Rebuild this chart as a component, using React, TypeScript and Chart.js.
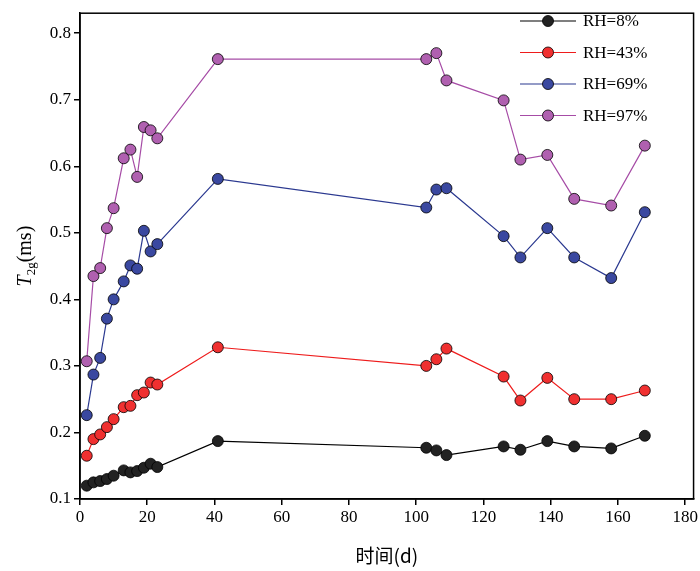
import React, { useEffect, useRef } from "react";
import { Chart, registerables } from "chart.js";
Chart.register(...registerables);

const days = [2, 4, 6, 8, 10, 13, 15, 17, 19, 21, 23, 41, 103, 106, 109, 126, 131, 139, 147, 158, 168];
const rh8 = [0.12, 0.125, 0.127, 0.13, 0.135, 0.143, 0.14, 0.142, 0.147, 0.153, 0.148, 0.187, 0.177, 0.173, 0.166, 0.179, 0.174, 0.187, 0.179, 0.176, 0.195];
const rh43 = [0.165, 0.19, 0.197, 0.208, 0.22, 0.238, 0.24, 0.256, 0.26, 0.275, 0.272, 0.328, 0.3, 0.31, 0.326, 0.284, 0.248, 0.282, 0.25, 0.25, 0.263];
const rh69 = [0.226, 0.287, 0.312, 0.371, 0.4, 0.427, 0.451, 0.446, 0.503, 0.472, 0.483, 0.581, 0.538, 0.565, 0.567, 0.495, 0.463, 0.507, 0.463, 0.432, 0.531];
const rh97 = [0.307, 0.435, 0.447, 0.507, 0.537, 0.612, 0.625, 0.584, 0.659, 0.654, 0.642, 0.761, 0.761, 0.77, 0.729, 0.699, 0.61, 0.617, 0.551, 0.541, 0.631];
const labels = ["RH=8%", "RH=43%", "RH=69%", "RH=97%"];
const colors = ["#000000", "#ee1c1c", "#2b3990", "#a64ca6"];
const fills = ["#222222", "#f03030", "#3a48a0", "#b060b0"];

const FONT = "'Liberation Serif', 'Times New Roman', serif";

export default function App() {
  const ref = useRef<HTMLCanvasElement>(null);
  useEffect(() => {
    document.body.style.margin = "0";
    const series = [rh8, rh43, rh69, rh97];
    const extras = {
      id: "extras",
      afterDraw(chart: any) {
        const { ctx, chartArea: a } = chart;
        ctx.save();
        ctx.strokeStyle = "#000";
        ctx.lineWidth = 1.5;
        ctx.strokeRect(a.left, a.top, a.right - a.left, a.bottom - a.top);
        ctx.font = `17px ${FONT}`;
        ctx.textBaseline = "middle";
        for (let i = 0; i < 4; i++) {
          const y = 21 + i * 31.5;
          ctx.strokeStyle = colors[i];
          ctx.lineWidth = 1.2;
          ctx.beginPath();
          ctx.moveTo(520, y);
          ctx.lineTo(576, y);
          ctx.stroke();
          ctx.beginPath();
          ctx.arc(548, y, 5.5, 0, Math.PI * 2);
          ctx.fillStyle = fills[i];
          ctx.fill();
          ctx.strokeStyle = "#000";
          ctx.lineWidth = 0.8;
          ctx.stroke();
          ctx.fillStyle = "#000";
          ctx.fillText(labels[i], 583, y + 1);
        }
        ctx.translate(24, (a.top + a.bottom) / 2);
        ctx.rotate(-Math.PI / 2);
        ctx.textBaseline = "alphabetic";
        ctx.font = `italic 20px ${FONT}`;
        const w1 = ctx.measureText("T").width;
        ctx.font = `13px ${FONT}`;
        const w2 = ctx.measureText("2g").width;
        ctx.font = `20px ${FONT}`;
        const w3 = ctx.measureText("(ms)").width;
        let x = -(w1 + w2 + w3) / 2;
        ctx.font = `italic 20px ${FONT}`;
        ctx.fillText("T", x, 7); x += w1;
        ctx.font = `13px ${FONT}`;
        ctx.fillText("2g", x, 11); x += w2;
        ctx.font = `20px ${FONT}`;
        ctx.fillText("(ms)", x, 7);
        ctx.restore();
      },
    };
    const chart = new Chart(ref.current!, {
      type: "line",
      data: {
        datasets: series.map((s, i) => ({
          label: labels[i],
          data: days.map((d, j) => ({ x: d, y: s[j] })),
          borderColor: colors[i],
          borderWidth: 1.2,
          pointRadius: 5.5,
          pointBackgroundColor: fills[i],
          pointBorderColor: "#000",
          pointBorderWidth: 0.8,
          tension: 0,
        })),
      },
      options: {
        animation: false,
        responsive: false,
        layout: { padding: { top: 1, right: 2, left: 0, bottom: 0 } },
        plugins: { legend: { display: false }, tooltip: { enabled: false } },
        scales: {
          x: {
            type: "linear",
            min: 0,
            max: 182.5,
            afterFit: (s: any) => { s.height = 72; },
            afterBuildTicks: (s: any) => {
              s.ticks = [0, 20, 40, 60, 80, 100, 120, 140, 160, 180].map((v) => ({ value: v }));
            },
            grid: { drawOnChartArea: false, tickLength: 6, color: "#000", lineWidth: 1.5 },
            border: { color: "#000", width: 1.5 },
            ticks: { color: "#000", font: { family: FONT, size: 17 }, padding: 2, maxRotation: 0 },
            title: { display: true, text: "时间(d)", color: "#000", font: { family: "'Noto Sans CJK SC', " + FONT, size: 19 }, padding: { top: 2 } },
          },
          y: {
            min: 0.1,
            max: 0.83,
            afterFit: (s: any) => { s.width = 80; },
            afterBuildTicks: (s: any) => {
              s.ticks = [0.1, 0.2, 0.3, 0.4, 0.5, 0.6, 0.7, 0.8].map((v) => ({ value: v }));
            },
            grid: { drawOnChartArea: false, tickLength: 6, color: "#000", lineWidth: 1.5 },
            border: { color: "#000", width: 1.5 },
            ticks: { color: "#000", font: { family: FONT, size: 17 }, padding: 3, callback: (v: any) => Number(v).toFixed(1) },
          },
        },
      },
      plugins: [extras],
    });
    return () => chart.destroy();
  }, []);
  return <canvas ref={ref} width={700} height={571} style={{ display: "block" }} />;
}
